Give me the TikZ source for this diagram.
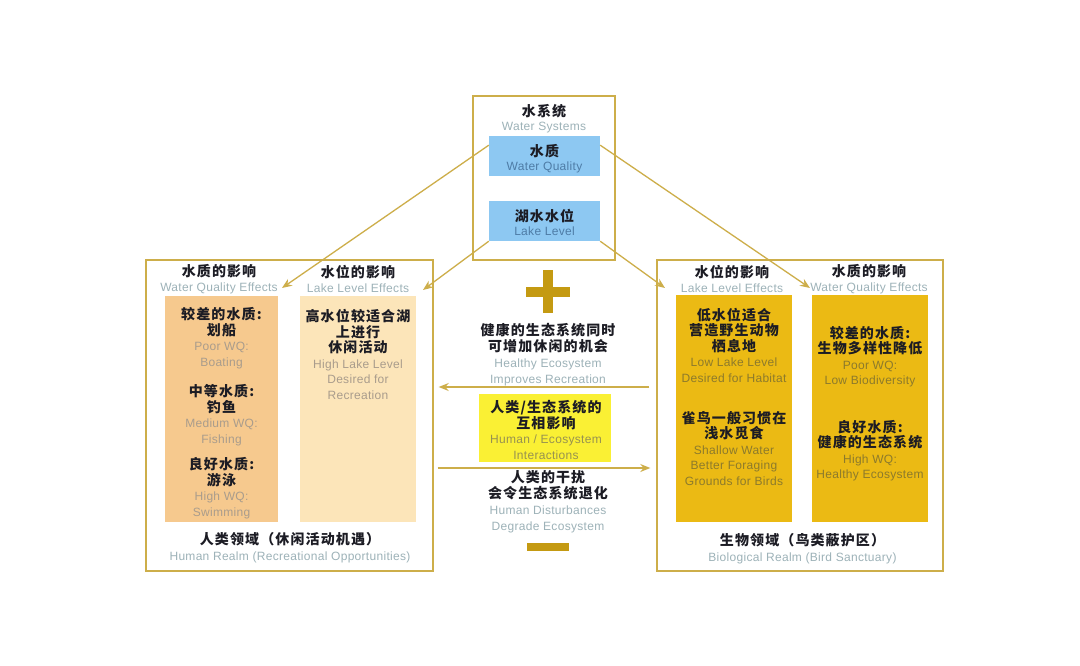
\documentclass[tikz,border=0pt]{standalone}
\usepackage{fontspec}
\setmainfont{Liberation Sans}[LetterSpace=2.5]
\newfontfamily\cjk[LetterSpace=8]{Noto Sans CJK SC}
\usetikzlibrary{arrows.meta}

\definecolor{gold}{HTML}{CDAE4A}
\definecolor{golddark}{HTML}{C49A12}
\definecolor{skyblue}{HTML}{8DC8F2}
\definecolor{tanA}{HTML}{F6C98E}
\definecolor{tanB}{HTML}{FCE5B9}
\definecolor{amber}{HTML}{EBBA14}
\definecolor{lemon}{HTML}{FAF034}
\definecolor{zhink}{HTML}{1C1C24}
\definecolor{enwhite}{HTML}{9DB2B8}
\definecolor{enblue}{HTML}{4E7CA6}
\definecolor{entan}{HTML}{A99C8C}
\definecolor{enamber}{HTML}{8C7A2C}
\definecolor{enlemon}{HTML}{979250}

\newcommand{\zh}[1]{{\cjk\bfseries\fontsize{14}{15.5}\selectfont\color{zhink}#1}}

\tikzset{
  frame/.style={draw=gold, line width=1.4pt, inner sep=0pt},
  panel/.style={fill=#1, draw=none, inner sep=0pt},
  txt/.style={align=center, inner sep=0pt, text=enwhite,
    font=\fontsize{12}{15.5}\selectfont},
  arr/.style={draw=gold, line width=1.3pt, -{Stealth[length=10pt,width=8pt]}}
}

\begin{document}
\begin{tikzpicture}[x=1pt,y=-1pt]
\useasboundingbox[fill=white] (0,0) rectangle (1080,666);

% water system box
\node[frame, minimum width=142, minimum height=164] (sys) at (544,178) {};
\node[panel=skyblue, minimum width=111, minimum height=40] (wq) at (544.5,156) {};
\node[panel=skyblue, minimum width=111, minimum height=40] (ll) at (544.5,221) {};
\node[txt, font=\fontsize{12}{13.5}\selectfont] (systxt) at (544,118.5) {\zh{水系统}\\Water Systems};
\node[txt, text=enblue, font=\fontsize{12}{13.5}\selectfont] (wqtxt) at (544.5,158.5) {\zh{水质}\\Water Quality};
\node[txt, text=enblue, font=\fontsize{12}{14.5}\selectfont] (lltxt) at (544.5,222.5) {\zh{湖水水位}\\Lake Level};

% human realm
\node[frame, minimum width=287, minimum height=311] (lr) at (289.5,415.5) {};
\node[panel=tanA, minimum width=113, minimum height=226] (lc1) at (221.5,409) {};
\node[panel=tanB, minimum width=116, minimum height=226] (lc2) at (358,409) {};
\node[txt] (lh1) at (219,279) {\zh{水质的影响}\\Water Quality Effects};
\node[txt] (lh2) at (358,279) {\zh{水位的影响}\\Lake Level Effects};
\node[txt, text=entan] (la) at (221.5,338) {\zh{较差的水质:}\\\zh{划船}\\Poor WQ:\\Boating};
\node[txt, text=entan] (lb) at (221.5,415) {\zh{中等水质:}\\\zh{钓鱼}\\Medium WQ:\\Fishing};
\node[txt, text=entan] (lc) at (221.5,488) {\zh{良好水质:}\\\zh{游泳}\\High WQ:\\Swimming};
\node[txt, text=entan] (ld) at (358,354.5) {\zh{高水位较适合湖}\\\zh{上进行}\\\zh{休闲活动}\\High Lake Level\\Desired for\\Recreation};
\node[txt] (lfoot) at (290,547.5) {\zh{人类领域（休闲活动机遇）}\\Human Realm (Recreational Opportunities)};

% biological realm
\node[frame, minimum width=286, minimum height=311] (rr) at (800,415.5) {};
\node[panel=amber, minimum width=116, minimum height=227] (rc1) at (734,408.5) {};
\node[panel=amber, minimum width=116, minimum height=227] (rc2) at (870,408.5) {};
\node[txt] (rh1) at (732,279) {\zh{水位的影响}\\Lake Level Effects};
\node[txt] (rh2) at (869,279) {\zh{水质的影响}\\Water Quality Effects};
\node[txt, text=enamber] (ra) at (734,345) {\zh{低水位适合}\\\zh{营造野生动物}\\\zh{栖息地}\\Low Lake Level\\Desired for Habitat};
\node[txt, text=enamber] (rb) at (734,448.5) {\zh{雀鸟一般习惯在}\\\zh{浅水觅食}\\Shallow Water\\Better Foraging\\Grounds for Birds};
\node[txt, text=enamber] (rc) at (870,356.5) {\zh{较差的水质:}\\\zh{生物多样性降低}\\Poor WQ:\\Low Biodiversity};
\node[txt, text=enamber] (rd) at (870,450.5) {\zh{良好水质:}\\\zh{健康的生态系统}\\High WQ:\\Healthy Ecosystem};
\node[txt] (rfoot) at (802.5,548.5) {\zh{生物领域（鸟类蔽护区）}\\Biological Realm (Bird Sanctuary)};

% interactions
\fill[golddark] (526,287) rectangle (570,297);
\fill[golddark] (542.5,270) rectangle (553,313);
\node[txt, font=\fontsize{12}{16}\selectfont] (plustxt) at (548,354.5) {\zh{健康的生态系统同时}\\\zh{可增加休闲的机会}\\Healthy Ecosystem\\Improves Recreation};
\node[panel=lemon, minimum width=132, minimum height=68] (hx) at (545,428) {};
\node[txt, text=enlemon] (hxtxt) at (546,430) {\zh{人类/生态系统的}\\\zh{互相影响}\\Human / Ecosystem\\Interactions};
\node[txt, font=\fontsize{12}{16}\selectfont] (minustxt) at (548,502) {\zh{人类的干扰}\\\zh{会令生态系统退化}\\Human Disturbances\\Degrade Ecosystem};
\fill[golddark] (527,543) rectangle (569,551);

% connectors
\coordinate (t1) at (282,288);
\coordinate (t2) at (423,290);
\coordinate (t3) at (665,288);
\coordinate (t4) at (810,288);
\draw[arr] (wq.169) -- (t1);
\draw[arr] (ll.south west) -- (t2);
\draw[arr] (ll.south east) -- (t3);
\draw[arr] (wq.11) -- (t4);
\coordinate (ha) at (0,387);
\coordinate (hb) at (0,468);
\draw[arr] ([xshift=-7pt]rr.west |- ha) -- ([xshift=5pt]lr.east |- ha);
\draw[arr] ([xshift=4pt]lr.east |- hb) -- ([xshift=-6pt]rr.west |- hb);
\end{tikzpicture}
\end{document}
